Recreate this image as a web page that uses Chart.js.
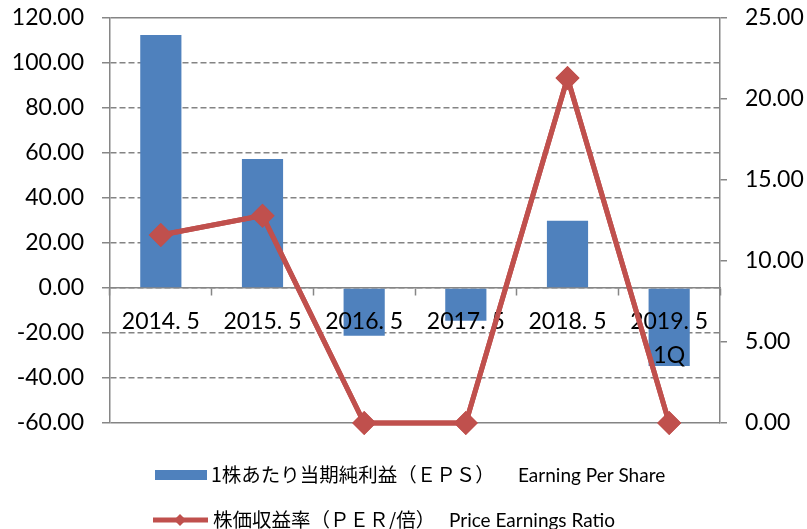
<!DOCTYPE html>
<html>
<head>
<meta charset="utf-8">
<script src="https://cdn.jsdelivr.net/npm/chart.js@4/dist/chart.umd.min.js"></script>
<style>
  html, body { margin: 0; padding: 0; background: #fff; }
  #wrap { width: 807px; height: 529px; }
</style>
</head>
<body>
<div id="wrap"><canvas id="c" width="807" height="529"></canvas></div>
<script>
// ---- data ----
const categories = ['2014. 5', '2015. 5', '2016. 5', '2017. 5', '2018. 5', ['2019. 5', '1Q']];
const epsValues = [112.4, 57.3, -21.2, -14.5, 29.9, -34.7];
const perValues = [11.6, 12.8, 0, 0, 21.3, 0];
const leftTicks = [-60, -40, -20, 0, 20, 40, 60, 80, 100, 120];
const rightTicks = [0, 5, 10, 15, 20, 25];
const seriesNamesJa = ['1株あたり当期純利益（ＥＰＳ）', '株価収益率（ＰＥＲ/倍）'];
const seriesNamesEn = ['Earning Per Share', 'Price Earnings Ratio'];

// ---- styles ----
const BAR_COLOR = '#4F81BD';
const LINE_COLOR = '#C0504D';
const AXIS_COLOR = '#868686';
const GRID_COLOR = '#848484';
const NUM_FONT = 'Lato';
const CJK_FONT = '"Noto Sans CJK JP"';

const legendPlugin = {
  id: 'customLegend',
  afterDraw(chart) {
    const ctx = chart.ctx;
    ctx.save();
    // redraw line dataset on top of the axis labels
    const meta = chart.getDatasetMeta(1);
    if (meta && meta.controller) meta.controller.draw();

    ctx.textBaseline = 'middle';
    ctx.textAlign = 'left';
    // row 1: bar
    ctx.fillStyle = BAR_COLOR;
    ctx.fillRect(155, 470, 52, 10);
    ctx.fillStyle = '#000';
    ctx.font = '19.5px ' + CJK_FONT;
    ctx.fillText(chart.data.datasets[0].labelJa, 211, 475);
    ctx.font = '19px ' + NUM_FONT;
    ctx.fillText(chart.data.datasets[0].labelEn, 518, 476);
    // row 2: line with diamond
    ctx.strokeStyle = LINE_COLOR;
    ctx.lineWidth = 5;
    ctx.beginPath();
    ctx.moveTo(153, 520);
    ctx.lineTo(208, 520);
    ctx.stroke();
    ctx.fillStyle = LINE_COLOR;
    ctx.beginPath();
    ctx.moveTo(180, 514); ctx.lineTo(186, 520); ctx.lineTo(180, 526); ctx.lineTo(174, 520);
    ctx.closePath();
    ctx.fill();
    ctx.fillStyle = '#000';
    ctx.font = '19.5px ' + CJK_FONT;
    ctx.fillText(chart.data.datasets[1].labelJa, 213, 520);
    ctx.font = '19px ' + NUM_FONT;
    ctx.fillText(chart.data.datasets[1].labelEn, 449, 521);
    ctx.restore();
  }
};

function build() {
  new Chart(document.getElementById('c'), {
    data: {
      labels: categories,
      datasets: [
        {
          type: 'bar',
          label: seriesNamesJa[0] + ' ' + seriesNamesEn[0],
          labelJa: seriesNamesJa[0],
          labelEn: seriesNamesEn[0],
          data: epsValues,
          backgroundColor: BAR_COLOR,
          borderWidth: 0,
          yAxisID: 'y',
          categoryPercentage: 1,
          barPercentage: 0.405,
          order: 2
        },
        {
          type: 'line',
          label: seriesNamesJa[1] + ' ' + seriesNamesEn[1],
          labelJa: seriesNamesJa[1],
          labelEn: seriesNamesEn[1],
          data: perValues,
          borderColor: LINE_COLOR,
          backgroundColor: LINE_COLOR,
          borderWidth: 5,
          pointStyle: 'rectRot',
          pointRadius: 12,
          pointBorderWidth: 0,
          pointBackgroundColor: LINE_COLOR,
          tension: 0,
          clip: false,
          yAxisID: 'y1',
          order: 1
        }
      ]
    },
    options: {
      responsive: false,
      animation: false,
      devicePixelRatio: 1,
      layout: { padding: { top: 18, bottom: 106, left: 0, right: 0 } },
      plugins: {
        legend: { display: false },
        tooltip: { enabled: false }
      },
      scales: {
        x: {
          type: 'category',
          position: { y: 0 },
          offset: true,
          grid: {
            offset: true,
            drawOnChartArea: false,
            drawTicks: true,
            tickLength: 7,
            tickWidth: 1.5,
            tickColor: AXIS_COLOR,
            color: AXIS_COLOR
          },
          border: { display: true, color: AXIS_COLOR, width: 1.5 },
          ticks: {
            z: 1,
            color: '#000',
            font: { family: NUM_FONT, size: 23, lineHeight: 1.5 },
            padding: 9,
            maxRotation: 0,
            autoSkip: false
          }
        },
        y: {
          position: 'left',
          min: leftTicks[0],
          max: leftTicks[leftTicks.length - 1],
          afterBuildTicks(scale) { scale.ticks = leftTicks.map(v => ({ value: v })); },
          afterFit(scale) { scale.width = 110; scale.paddingTop = 0; scale.paddingBottom = 0; },
          grid: {
            color: GRID_COLOR,
            lineWidth: 1.5,
            tickColor: AXIS_COLOR,
            tickWidth: 1.5,
            tickLength: 8
          },
          border: {
            display: true,
            color: AXIS_COLOR,
            width: 1.5,
            dash: (ctx) => (ctx.tick && (ctx.tick.value === leftTicks[0] || ctx.tick.value === leftTicks[leftTicks.length - 1])) ? [] : [6, 3]
          },
          ticks: {
            color: '#000',
            font: { family: NUM_FONT, size: 23 },
            padding: 18,
            callback: (v) => Number(v).toFixed(2)
          }
        },
        y1: {
          position: 'right',
          min: rightTicks[0],
          max: rightTicks[rightTicks.length - 1],
          afterBuildTicks(scale) { scale.ticks = rightTicks.map(v => ({ value: v })); },
          afterFit(scale) { scale.width = 87; scale.paddingTop = 0; scale.paddingBottom = 0; },
          grid: {
            drawOnChartArea: false,
            tickColor: AXIS_COLOR,
            tickLength: 7,
            tickWidth: 1.5,
            lineWidth: 1.5
          },
          border: { display: true, color: AXIS_COLOR, width: 1.5 },
          ticks: {
            color: '#000',
            font: { family: NUM_FONT, size: 23 },
            padding: 18,
            callback: (v) => Number(v).toFixed(2)
          }
        }
      }
    },
    plugins: [legendPlugin]
  });
}

if (document.fonts && document.fonts.load) {
  Promise.all([
    document.fonts.load('23px Lato'),
    document.fonts.load('19.5px "Noto Sans CJK JP"', '株価')
  ]).then(build, build);
} else {
  build();
}
</script>
</body>
</html>
